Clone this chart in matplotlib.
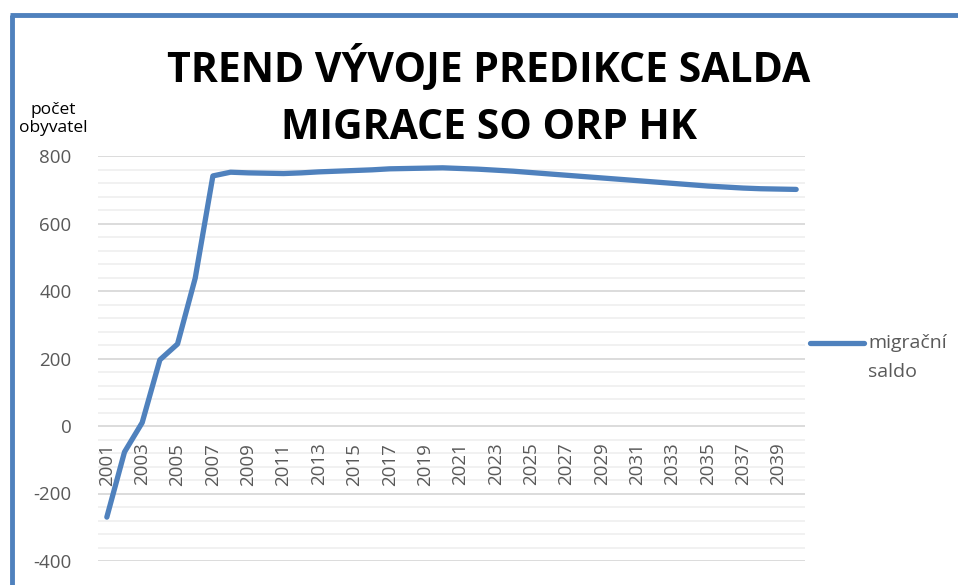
import numpy as np
import matplotlib
matplotlib.use("Agg")
import matplotlib.pyplot as plt
from matplotlib.lines import Line2D
from matplotlib import transforms

# ---- data ----
years = list(range(2001, 2041))
saldo = [-270, -77, 10, 196, 243, 438, 741, 752, 750, 749,
         748, 750, 753, 755, 757, 759, 762, 763, 764, 765,
         763, 761, 758, 755, 751, 747, 743, 739, 735, 731,
         727, 723, 719, 715, 711, 708, 705, 703, 702, 701]
tick_years = years[::2]
title = "TREND VÝVOJE PREDIKCE SALDA\nMIGRACE SO ORP HK"
ylabel = "počet\nobyvatel"
series_label = ["migrační", "saldo"]

BLUE = "#4f81bd"
TXT = "#595959"
W, H = 958, 585

plt.rcParams["font.family"] = ["Open Sans", "DejaVu Sans"]
plt.rcParams["axes.unicode_minus"] = False

fig = plt.figure(figsize=(W / 100, H / 100), dpi=100)
ax = fig.add_axes([98 / W, 1 - 561 / H, 707 / W, 405 / H])

x = np.arange(len(years))
ax.plot(x, saldo, color=BLUE, lw=3.8, solid_capstyle="round", solid_joinstyle="round", zorder=3)

ax.set_xlim(-0.5, len(years) - 0.5)
ax.set_ylim(-400, 800)
ax.set_yticks(np.arange(-400, 801, 200))
ax.set_yticks(np.arange(-400, 801, 40), minor=True)
ax.grid(axis="y", which="major", color="#d9d9d9", lw=1.3, zorder=1)
ax.grid(axis="y", which="minor", color="#f0f0f0", lw=1.3, zorder=0)
ax.set_xticks([])
ax.tick_params(axis="y", which="both", length=0, pad=19, labelsize=13.5, labelcolor=TXT)
for s in ax.spines.values():
    s.set_visible(False)

# category labels sit just under the zero line
off = transforms.offset_copy(ax.transData, fig=fig, x=0, y=-12, units="points")
for yr in tick_years:
    ax.text(years.index(yr), 0, str(yr), transform=off, rotation=90,
            ha="center", va="top", fontsize=13.5, color=TXT)

fig.text(489 / W, 1 - 97 / H, title, ha="center", va="center", fontsize=29.5,
         fontweight="bold", linespacing=1.5, color="black")
fig.text(53 / W, 1 - 119 / H, ylabel, ha="center", va="center", fontsize=12.5,
         color="black", linespacing=1.2)

# legend
fig.add_artist(Line2D([810 / W, 864 / W], [1 - 343 / H] * 2, color=BLUE, lw=3.8,
                      solid_capstyle="round", transform=fig.transFigure))
fig.text(868 / W, 1 - 343 / H, series_label[0], ha="left", va="center", fontsize=14, color=TXT)
fig.text(868 / W, 1 - 372 / H, series_label[1], ha="left", va="center", fontsize=14, color=TXT)

# chart frame (only left and top edges are visible in the crop)
fig.add_artist(Line2D([12 / W, 12 / W], [0, 1 - 15 / H], color=BLUE, lw=3.5,
                      transform=fig.transFigure, solid_capstyle="butt"))
fig.add_artist(Line2D([10.3 / W, 1], [1 - 15 / H] * 2, color=BLUE, lw=3.5,
                      transform=fig.transFigure, solid_capstyle="butt"))

fig.savefig("out.png", dpi=100)
